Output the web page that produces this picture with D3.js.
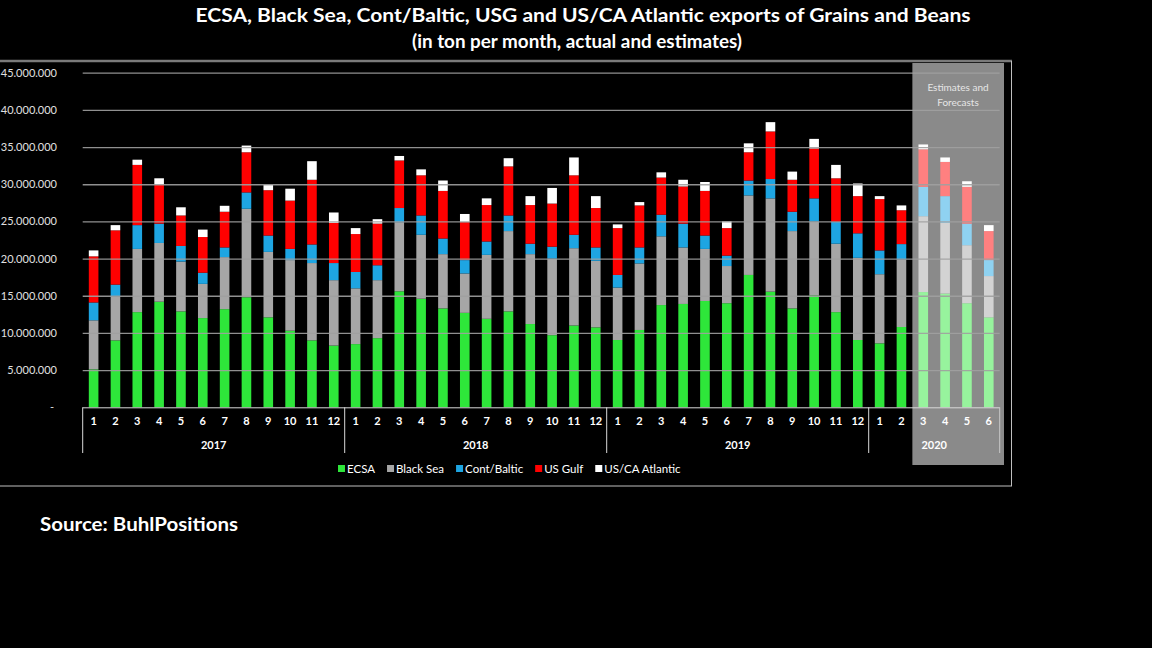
<!DOCTYPE html>
<html>
<head>
<meta charset="utf-8">
<script src="https://cdn.jsdelivr.net/npm/d3@7"></script>
<style>
  html, body { margin: 0; padding: 0; background: #000; }
  svg { display: block; font-family: Lato, 'Open Sans', sans-serif; }
</style>
</head>
<body>
<svg id="chart" width="1152" height="648"></svg>
<script>
// categories
const yearLabels = ['2017', '2018', '2019', '2020']
const monthsPerYear = [12, 12, 12, 6]
const monthLabels = [1, 2, 3, 4, 5, 6, 7, 8, 9, 10, 11, 12,
  1, 2, 3, 4, 5, 6, 7, 8, 9, 10, 11, 12,
  1, 2, 3, 4, 5, 6, 7, 8, 9, 10, 11, 12,
  1, 2, 3, 4, 5, 6]
const firstEstimate = 38 // 2020-3 onwards are estimates

const seriesNames = ['ECSA', 'Black Sea', 'Cont/Baltic', 'US Gulf', 'US/CA Atlantic']
const seriesColors = ['#2ee63a', '#a6a6a6', '#1ea5e2', '#ff0000', '#ffffff']

// tons per month
const ecsa = [5100000, 9000000, 12800000, 14200000, 12900000, 12000000, 13200000, 14800000, 12100000, 10300000, 9000000, 8300000,
  8500000, 9300000, 15600000, 14600000, 13300000, 12700000, 11900000, 12900000, 11200000, 9700000, 11000000, 10750000,
  9050000, 10400000, 13750000, 13900000, 14300000, 14000000, 17800000, 15550000, 13300000, 15050000, 12800000, 9050000,
  8600000, 10800000, 15500000, 15300000, 14000000, 12100000]
const blackSea = [6600000, 5900000, 8500000, 7900000, 6700000, 4600000, 7000000, 11900000, 8800000, 9500000, 10400000, 8800000,
  7500000, 7800000, 9300000, 8600000, 7300000, 5300000, 8600000, 10800000, 9400000, 10300000, 10400000, 8950000,
  7050000, 8950000, 9250000, 7600000, 7000000, 5000000, 10700000, 12550000, 10400000, 9950000, 9200000, 11050000,
  9300000, 9100000, 10200000, 9500000, 7800000, 5550000]
const contBaltic = [2400000, 1600000, 3200000, 2600000, 2100000, 1500000, 1300000, 2200000, 2200000, 1500000, 2500000, 2300000,
  2200000, 2000000, 1900000, 2600000, 2100000, 1800000, 1800000, 2100000, 1400000, 1600000, 1800000, 1800000,
  1700000, 2150000, 2900000, 3200000, 1800000, 1400000, 2000000, 2600000, 2600000, 3100000, 2950000, 3300000,
  3200000, 2050000, 3950000, 3600000, 2900000, 2150000]
const usGulf = [6200000, 7300000, 8100000, 5200000, 4100000, 4800000, 4800000, 5400000, 6100000, 6500000, 8700000, 5400000,
  5100000, 5600000, 6400000, 5400000, 6400000, 5100000, 4900000, 6600000, 5200000, 5800000, 8000000, 5300000,
  6300000, 5650000, 5000000, 5000000, 6000000, 3700000, 3800000, 6400000, 4300000, 6700000, 5850000, 5000000,
  6900000, 4550000, 5050000, 4600000, 4950000, 3900000]
const usCaAtlantic = [800000, 700000, 700000, 900000, 1100000, 1000000, 800000, 900000, 700000, 1600000, 2500000, 1400000,
  800000, 600000, 600000, 800000, 1400000, 1100000, 900000, 1100000, 1200000, 2100000, 2400000, 1600000,
  500000, 450000, 700000, 900000, 1200000, 900000, 1200000, 1250000, 1100000, 1300000, 1800000, 1700000,
  400000, 650000, 650000, 600000, 750000, 800000]

const yTicks = [0, 5000000, 10000000, 15000000, 20000000, 25000000, 30000000, 35000000, 40000000, 45000000]

const seriesValues = [ecsa, blackSea, contBaltic, usGulf, usCaAtlantic]
const rows = monthLabels.map((m, i) => {
  const row = { i: i }
  seriesNames.forEach((s, k) => { row[s] = seriesValues[k][i] })
  return row
})

const plot = { left: 82.7, right: 999.7, top: 72.7, bottom: 407.3 }

const svg = d3.select('#chart')

svg.append('rect')
  .attr('width', 1152).attr('height', 648).attr('fill', '#000')

// title
const title = svg.append('g')
  .attr('fill', '#fff')
  .attr('font-weight', 'bold')
  .attr('font-size', 19)
  .attr('text-anchor', 'middle')
title.append('text')
  .attr('x', 583).attr('y', 22)
  .attr('textLength', 775).attr('lengthAdjust', 'spacingAndGlyphs')
  .text('ECSA, Black Sea, Cont/Baltic, USG and US/CA Atlantic exports of Grains and Beans')
title.append('text')
  .attr('x', 577).attr('y', 48)
  .attr('textLength', 330).attr('lengthAdjust', 'spacingAndGlyphs')
  .text('(in ton per month, actual and estimates)')

// chart frame
svg.append('line')
  .attr('x1', 0).attr('x2', 1012).attr('y1', 61).attr('y2', 61)
  .attr('stroke', '#7a7a7a').attr('stroke-width', 2.5)
svg.append('line')
  .attr('x1', 0).attr('x2', 1012).attr('y1', 486).attr('y2', 486)
  .attr('stroke', '#bfbfbf').attr('stroke-width', 1)
svg.append('line')
  .attr('x1', 1011.5).attr('x2', 1011.5).attr('y1', 61).attr('y2', 486)
  .attr('stroke', '#bfbfbf').attr('stroke-width', 1)

const x = d3.scaleBand()
  .domain(d3.range(monthLabels.length))
  .range([plot.left, plot.right])
  .paddingInner(0.56)
  .paddingOuter(0.28)

const y = d3.scaleLinear()
  .domain([0, 45000000])
  .range([plot.bottom, plot.top])

const gap = (x.step() - x.bandwidth()) / 2
const boundary = k => k < monthLabels.length ? x(k) - gap : x(monthLabels.length - 1) + x.bandwidth() + gap

// estimates box
svg.append('rect')
  .attr('x', boundary(firstEstimate))
  .attr('y', 63)
  .attr('width', 1004 - boundary(firstEstimate))
  .attr('height', 402)
  .attr('fill', '#8a8a8a')

svg.append('g')
  .attr('fill', '#e6e6e6')
  .attr('font-size', 10)
  .attr('text-anchor', 'middle')
  .selectAll('text')
  .data(['Estimates and', 'Forecasts'])
  .join('text')
    .attr('x', 958)
    .attr('y', (d, i) => 91 + i * 15)
    .text(d => d)

// bars
const stack = d3.stack().keys(seriesNames)
const stacked = stack(rows)

const lighten = c => d3.interpolateRgb(c, '#ffffff')(0.5)

svg.append('g')
  .selectAll('g')
  .data(stacked)
  .join('g')
    .each(function (layer, k) {
      d3.select(this).selectAll('rect')
        .data(layer)
        .join('rect')
          .attr('x', d => x(d.data.i))
          .attr('y', d => y(d[1]))
          .attr('width', x.bandwidth())
          .attr('height', d => y(d[0]) - y(d[1]))
          .attr('fill', d => d.data.i >= firstEstimate && k < 4 ? lighten(seriesColors[k]) : seriesColors[k])
    })

// gridlines (drawn over the bars like the original)
const grid = svg.append('g')
  .attr('transform', 'translate(' + plot.left + ',0)')
  .call(d3.axisLeft(y)
    .tickValues(yTicks.slice(1))
    .tickSize(-(plot.right - plot.left))
    .tickFormat(''))
grid.select('.domain').remove()
grid.selectAll('.tick line')
  .attr('stroke', '#a0a0a0')
  .attr('stroke-width', 1.3)
  .attr('stroke-opacity', 0.9)

// y axis labels
const locale = d3.formatLocale({ decimal: ',', thousands: '.', grouping: [3], currency: ['', ''] })
const fmt = locale.format(',d')

const yAxis = svg.append('g')
  .attr('transform', 'translate(60,0)')
  .call(d3.axisLeft(y)
    .tickValues(yTicks)
    .tickSize(0)
    .tickPadding(3)
    .tickFormat(d => d === 0 ? '-' : fmt(d)))
yAxis.select('.domain').remove()
yAxis.selectAll('text')
  .attr('fill', '#e0e0e0')
  .attr('font-size', 11)
  .attr('font-family', 'Lato, sans-serif')
yAxis.selectAll('.tick')
  .filter(d => d === 0)
  .select('text')
  .attr('x', -6)

// x axis (months)
const xAxis = svg.append('g')
  .attr('transform', 'translate(0,' + plot.bottom + ')')
  .call(d3.axisBottom(x)
    .tickSize(0)
    .tickSizeOuter(0)
    .tickPadding(10)
    .tickFormat(i => monthLabels[i]))
xAxis.select('.domain')
  .attr('stroke', '#d9d9d9')
  .attr('d', 'M' + plot.left + ',0.5H' + plot.right)
xAxis.selectAll('text')
  .attr('fill', '#fff')
  .attr('font-size', 11)
  .attr('font-weight', 'bold')
  .attr('font-family', 'Lato, sans-serif')

// year groups
const yearStarts = d3.cumsum([0].concat(monthsPerYear))
svg.append('g')
  .selectAll('line')
  .data(yearStarts)
  .join('line')
    .attr('x1', k => boundary(k))
    .attr('x2', k => boundary(k))
    .attr('y1', plot.bottom)
    .attr('y2', 453)
    .attr('stroke', (k, i) => i === yearStarts.length - 1 ? '#c8c8c8' : '#d9d9d9')
    .attr('stroke-width', 1)

svg.append('g')
  .attr('fill', '#fff')
  .attr('font-size', 11)
  .attr('font-weight', 'bold')
  .attr('text-anchor', 'middle')
  .selectAll('text')
  .data(yearLabels)
  .join('text')
    .attr('x', (d, i) => (boundary(yearStarts[i]) + boundary(yearStarts[i + 1])) / 2)
    .attr('y', 449)
    .text(d => d)

// legend
const legend = svg.append('g')
  .attr('font-size', 11.5)
  .attr('fill', '#fff')
let lx = 338
seriesNames.forEach((name, k) => {
  legend.append('rect')
    .attr('x', lx).attr('y', 465)
    .attr('width', 7).attr('height', 7)
    .attr('fill', seriesColors[k])
  const t = legend.append('text')
    .attr('x', lx + 9).attr('y', 473)
    .text(name)
  lx += 9 + t.node().getComputedTextLength() + 12
})

// source
svg.append('text')
  .attr('x', 40).attr('y', 531)
  .attr('fill', '#fff')
  .attr('font-size', 18)
  .attr('font-weight', 'bold')
  .attr('textLength', 198).attr('lengthAdjust', 'spacingAndGlyphs')
  .text('Source: BuhlPositions')
</script>
</body>
</html>
